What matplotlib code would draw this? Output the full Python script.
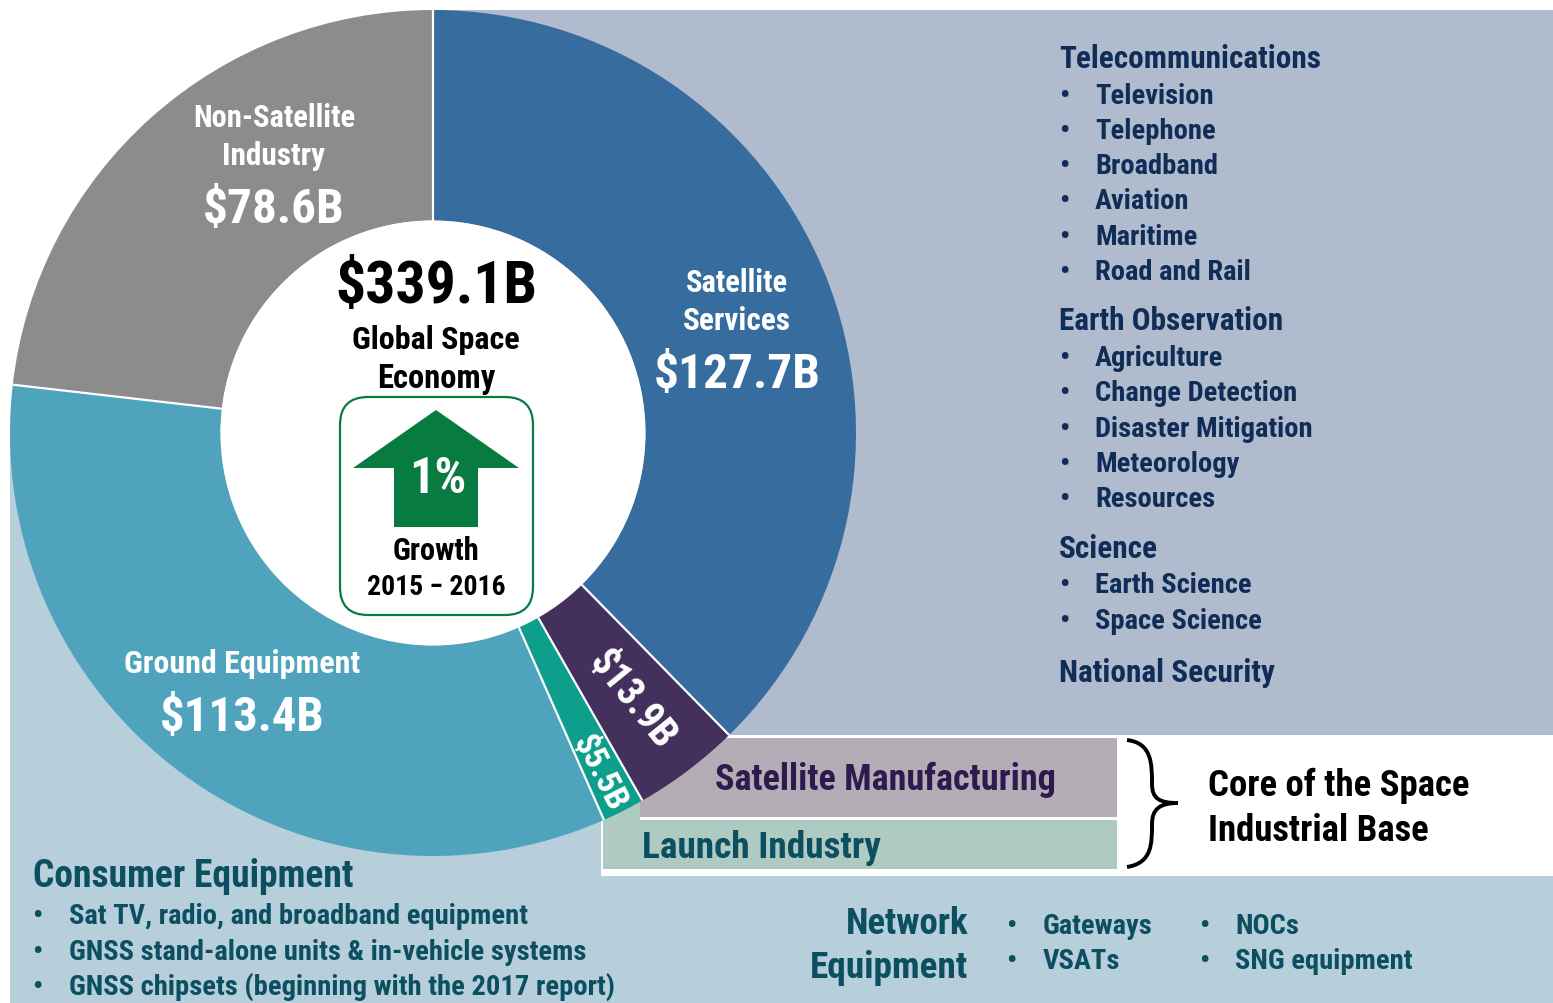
import numpy as np
import matplotlib
matplotlib.use('Agg')
import matplotlib.pyplot as plt
from matplotlib.patches import Rectangle, Circle, FancyBboxPatch, Polygon, PathPatch
from matplotlib.path import Path

plt.rcParams['font.family'] = ['Roboto Condensed', 'Liberation Sans', 'DejaVu Sans']
plt.rcParams['font.weight'] = 'bold'

segment_names = ['Satellite Services', 'Satellite Manufacturing', 'Launch Industry',
                 'Ground Equipment', 'Non-Satellite Industry']
segment_values = [127.7, 13.9, 5.5, 113.4, 78.6]
segment_colors = ['#376C9F', '#44305C', '#0E9E8C', '#4FA3BD', '#8C8C8C']

total_label = '$339.1B'
growth_label = '1%'

telecom_items = ['Television', 'Telephone', 'Broadband', 'Aviation', 'Maritime', 'Road and Rail']
earth_obs_items = ['Agriculture', 'Change Detection', 'Disaster Mitigation', 'Meteorology', 'Resources']
science_items = ['Earth Science', 'Space Science']
consumer_items = ['Sat TV, radio, and broadband equipment',
                  'GNSS stand-alone units & in-vehicle systems',
                  'GNSS chipsets (beginning with the 2017 report)']
network_items_a = ['Gateways', 'VSATs']
network_items_b = ['NOCs', 'SNG equipment']

NAVY = '#0F2D56'
TEAL = '#0B4F60'
CX, CY = 433, 434
R_OUT, R_IN = 423, 212.5


def bullet_list(ax, items, baselines, color, x_dot, x_text, size):
    for item, y in zip(items, baselines):
        ax.text(x_dot, y, '\u2022', color=color, fontsize=size, va='baseline', ha='left')
        ax.text(x_text, y, item, color=color, fontsize=size, va='baseline', ha='left')


fig = plt.figure(figsize=(15.53, 10.04), dpi=100)
ax = fig.add_axes([0, 0, 1, 1])

# background panels
ax.add_patch(Rectangle((10, 434), 1543, 570, fc='#B6CFDA', ec='none', zorder=0))
ax.add_patch(Rectangle((433, 11), 1120, 725, fc='#B1BBCE', ec='none', zorder=0.1))
ax.add_patch(Rectangle((601, 736), 952, 141, fc='white', ec='none', zorder=0.5))
ax.add_patch(Rectangle((640, 739), 477, 79, fc='#B4ADB6', ec='none', zorder=0.6))
ax.add_patch(Rectangle((603, 821), 514, 49, fc='#AFCAC3', ec='none', zorder=0.6))
ax.add_patch(Rectangle((603, 795), 37, 27, fc='#AFCAC3', ec='none', zorder=0.6))

# the y axis runs downwards, so start at -90 to begin at 12 o'clock and go clockwise
wedges, _ = ax.pie(segment_values, colors=segment_colors, startangle=-90, counterclock=True,
                   center=(CX, CY), radius=R_OUT, frame=True,
                   wedgeprops=dict(width=R_OUT - R_IN, edgecolor='none'))
for w in wedges:
    w.set_zorder(1)

# white dividers only on the radial edges
edges = np.deg2rad(np.cumsum(segment_values) / np.sum(segment_values) * 360 - 90)
for t in edges:
    ax.plot([CX + R_IN * np.cos(t), CX + R_OUT * np.cos(t)],
            [CY + R_IN * np.sin(t), CY + R_OUT * np.sin(t)],
            color='white', lw=1.6, zorder=1.5, solid_capstyle='butt')
ax.add_patch(Circle((CX, CY), R_IN, fc='white', ec='none', zorder=2))

ax.set_xlim(0, 1553)
ax.set_ylim(1004, 0)
ax.set_aspect('auto')
ax.axis('off')

# segment labels
for txt, x, y, size in [('Non-Satellite', 274, 127, 22), ('Industry', 274, 165, 22.5),
                        ('$78.6B', 274, 223, 35.5),
                        ('Satellite', 737, 292, 22), ('Services', 737, 330, 22.5),
                        ('$127.7B', 737, 388, 35.5),
                        ('Ground Equipment', 242, 673, 23),
                        ('$113.4B', 242, 731, 35)]:
    ax.text(x, y, txt, color='white', fontsize=size, ha='center', va='baseline', zorder=3)

ax.text(632, 700, '$13.9B', color='white', fontsize=28.5, rotation=-51, ha='center', va='center',
        rotation_mode='anchor', zorder=3)
ax.text(599, 773, '$5.5B', color='white', fontsize=24.5, rotation=-63, ha='center', va='center',
        rotation_mode='anchor', zorder=3)

# centre of the ring
ax.text(436, 303, total_label, color='black', fontsize=43, ha='center', va='baseline', zorder=3)
ax.text(436, 349, 'Global Space', color='black', fontsize=23, ha='center', va='baseline', zorder=3)
ax.text(436, 388, 'Economy', color='black', fontsize=23.5, ha='center', va='baseline', zorder=3)
ax.add_patch(FancyBboxPatch((340, 398), 193, 218, boxstyle='round,pad=0,rounding_size=28',
                            fc='white', ec='#087B41', lw=1.6, zorder=2.6))
ax.add_patch(Polygon([(436, 411), (519, 469), (478, 469), (478, 528), (394, 528), (394, 469), (353, 469)],
                     closed=True, fc='#087B41', ec='none', zorder=3))
ax.text(438, 493, growth_label, color='white', fontsize=36, ha='center', va='baseline', zorder=4)
ax.text(436, 560, 'Growth', color='black', fontsize=22, ha='center', va='baseline', zorder=4)
ax.text(436, 595, '2015 \u2212 2016', color='black', fontsize=20, ha='center', va='baseline', zorder=4)

# right hand lists
LIST_SIZE = 20.5
HEAD_SIZE = 22.5
ax.text(1059, 68, 'Telecommunications', color=NAVY, fontsize=HEAD_SIZE, va='baseline')
bullet_list(ax, telecom_items, [104, 139, 174, 209, 245, 280], NAVY, 1059, 1095, LIST_SIZE)
ax.text(1059, 330, 'Earth Observation', color=NAVY, fontsize=HEAD_SIZE, va='baseline')
bullet_list(ax, earth_obs_items, [366, 401, 437, 472, 507], NAVY, 1059, 1095, LIST_SIZE)
ax.text(1059, 558, 'Science', color=NAVY, fontsize=HEAD_SIZE, va='baseline')
bullet_list(ax, science_items, [593, 629], NAVY, 1059, 1095, LIST_SIZE)
ax.text(1059, 682, 'National Security', color=NAVY, fontsize=HEAD_SIZE, va='baseline')

# core of the industrial base
ax.text(715, 790, 'Satellite Manufacturing', color='#2E1A4F', fontsize=26, va='baseline', zorder=3)
ax.text(642, 858, 'Launch Industry', color=TEAL, fontsize=26.8, va='baseline', zorder=3)
brace = Path([(1127, 741), (1152, 744), (1152, 765), (1152, 785), (1152, 800), (1160, 804), (1178, 804),
              (1160, 804), (1152, 810), (1152, 825), (1152, 845), (1152, 864), (1127, 868)],
             [Path.MOVETO] + [Path.CURVE4] * 12)
ax.add_patch(PathPatch(brace, fc='none', ec='black', lw=2.8, zorder=3))
ax.text(1208, 796, 'Core of the Space', color='black', fontsize=26.5, va='baseline', zorder=3)
ax.text(1208, 841, 'Industrial Base', color='black', fontsize=26.5, va='baseline', zorder=3)

# bottom lists
ax.text(33, 887, 'Consumer Equipment', color=TEAL, fontsize=27, va='baseline', zorder=3)
bullet_list(ax, consumer_items, [924, 960, 995], TEAL, 32, 69, LIST_SIZE)
ax.text(968, 934, 'Network', color=TEAL, fontsize=26.5, va='baseline', ha='right', zorder=3)
ax.text(968, 978, 'Equipment', color=TEAL, fontsize=26.8, va='baseline', ha='right', zorder=3)
bullet_list(ax, network_items_a, [934, 969], TEAL, 1006, 1043, LIST_SIZE)
bullet_list(ax, network_items_b, [934, 969], TEAL, 1199, 1235, LIST_SIZE)

fig.savefig('out.png', dpi=100)
